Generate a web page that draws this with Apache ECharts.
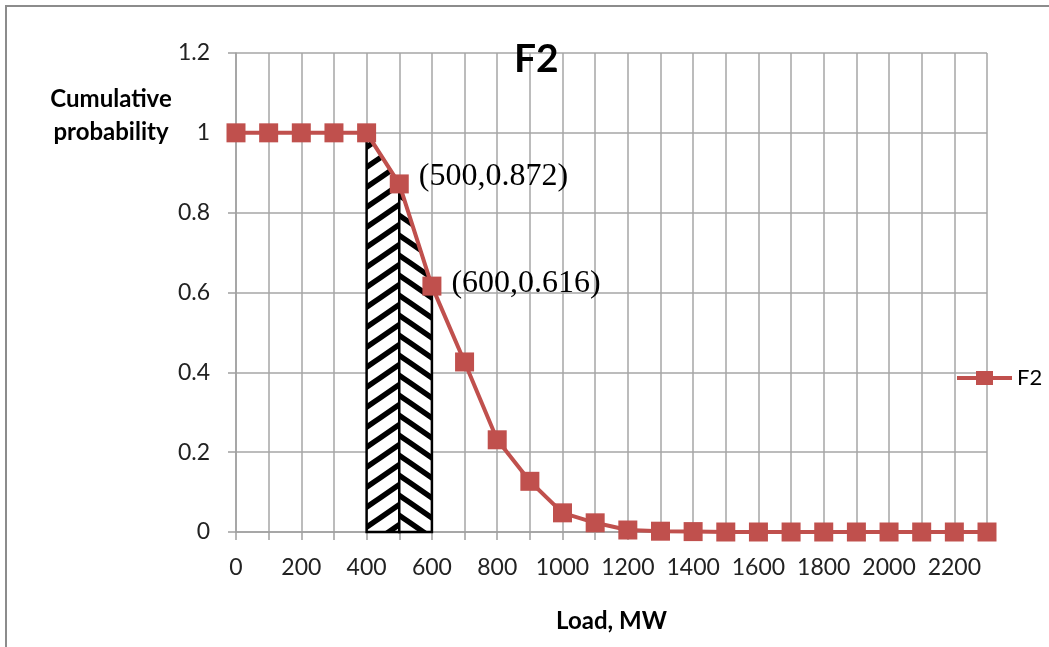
<!DOCTYPE html>
<html>
<head>
<meta charset="utf-8">
<script src="https://cdn.jsdelivr.net/npm/echarts@6/dist/echarts.min.js"></script>
<style>
html,body{margin:0;padding:0;background:#fff;}
#chart{width:1049px;height:647px;}
</style>
</head>
<body>
<div id="chart"></div>
<script>
// ---- data ----
const loads = [0,100,200,300,400,500,600,700,800,900,1000,1100,1200,1300,1400,1500,1600,1700,1800,1900,2000,2100,2200,2300];
const probs = [1,1,1,1,1,0.872,0.616,0.426,0.231,0.127,0.048,0.023,0.005,0.002,0.001,0,0,0,0,0,0,0,0,0];
const annotated = [500, 600];
const hatchLoads = [400, 500, 600];
const yTicks = [0, 0.2, 0.4, 0.6, 0.8, 1, 1.2];
const seriesName = 'F2';

function makeHatch(dir) {
  const W = 29, H = 20;
  const c = document.createElement('canvas');
  c.width = W; c.height = H;
  const ctx = c.getContext('2d');
  ctx.fillStyle = '#fff';
  ctx.fillRect(0, 0, W, H);
  ctx.strokeStyle = '#000';
  ctx.lineWidth = 5.5;
  ctx.beginPath();
  for (let k = -2; k <= 2; k++) {
    if (dir > 0) { ctx.moveTo(k * W - W, 2 * H); ctx.lineTo(k * W + 2 * W, -H); }
    else { ctx.moveTo(k * W - W, -H); ctx.lineTo(k * W + 2 * W, 2 * H); }
  }
  ctx.stroke();
  return c;
}
const hatchL = makeHatch(1), hatchR = makeHatch(-1);

function probAt(x) { return probs[loads.indexOf(x)]; }
const segs = [];
for (let i = 0; i < hatchLoads.length - 1; i++) segs.push([hatchLoads[i], hatchLoads[i + 1]]);

const lineData = loads.map((x, i) => {
  const d = { value: [x, probs[i]] };
  if (annotated.includes(x)) {
    d.label = {
      show: true, position: 'right', distance: 10,
      offset: [0, x === 500 ? -7 : -3],
      formatter: '(' + x + ',' + probs[i] + ')',
      fontFamily: 'Liberation Serif', fontSize: 32, color: '#000'
    };
  }
  return d;
});

const chart = echarts.init(document.getElementById('chart'));
const font = 'Lato';
chart.setOption({
  animation: false,
  backgroundColor: '#fff',
  graphic: [{
    type: 'rect', shape: { x: 6, y: 6, width: 1100, height: 700 },
    style: { fill: 'none', stroke: '#8c8c8c', lineWidth: 2 }, silent: true, z: -1
  }],
  title: [
    { text: 'F2', left: 509, top: 35, textStyle: { fontFamily: font, fontWeight: 'bold', fontSize: 39, color: '#000' } },
    { text: 'Cumulative\nprobability', left: 106, top: 78, textAlign: 'center',
      textStyle: { fontFamily: font, fontWeight: 'bold', fontSize: 24, lineHeight: 33, color: '#000' } }
  ],
  legend: {
    data: [{ name: seriesName, icon: 'path://M0,5 H19 V0 H36 V5 H55 V9 H36 V14 H19 V9 H0 Z' }],
    left: 952, top: 362, itemWidth: 55, itemHeight: 14, itemGap: 3, symbolKeepAspect: false,
    textStyle: { fontFamily: font, fontSize: 22, color: '#000' }
  },
  grid: { left: 236, right: 62, top: 53, bottom: 115 },
  xAxis: {
    type: 'value', min: 0, max: 2300, interval: 100,
    name: 'Load, MW', nameLocation: 'middle', nameGap: 77,
    nameTextStyle: { fontFamily: font, fontWeight: 'bold', fontSize: 24, color: '#000' },
    axisLine: { show: true, onZero: false, lineStyle: { color: '#a0a0a0', width: 1.5 } },
    axisTick: { show: true, length: 8, lineStyle: { color: '#a0a0a0', width: 1.5 } },
    splitLine: { show: true, lineStyle: { color: '#a6a6a6', width: 1.5 } },
    axisLabel: { margin: 24, fontFamily: font, fontSize: 23, color: '#222',
      formatter: v => (v % 200 === 0 && v <= 2200) ? String(v) : '' }
  },
  yAxis: {
    type: 'value', min: 0, max: 1.2, interval: 0.2,
    axisLine: { show: true, lineStyle: { color: '#a0a0a0', width: 1.5 } },
    axisTick: { show: true, length: 8, lineStyle: { color: '#a0a0a0', width: 1.5 } },
    splitLine: { show: true, lineStyle: { color: '#a6a6a6', width: 1.5 } },
    axisLabel: { margin: 26, fontFamily: font, fontSize: 23, color: '#222',
      formatter: v => yTicks.some(t => Math.abs(t - v) < 1e-9) ? String(+v.toFixed(1)) : '' }
  },
  series: [
    {
      type: 'custom', name: 'hatch', z: 2, silent: true,
      data: segs.map((s, i) => [i]),
      renderItem: (params, api) => {
        const s = segs[params.dataIndex];
        const pts = [
          api.coord([s[0], 0]), api.coord([s[0], probAt(s[0])]),
          api.coord([s[1], probAt(s[1])]), api.coord([s[1], 0])
        ];
        return {
          type: 'polygon', shape: { points: pts },
          style: { fill: { image: params.dataIndex === 0 ? hatchL : hatchR, repeat: 'repeat' },
                   stroke: '#000', lineWidth: 2.5 }
        };
      }
    },
    {
      type: 'line', name: seriesName, z: 3, data: lineData,
      symbol: 'rect', symbolSize: 19, color: '#c0504d',
      lineStyle: { color: '#c0504d', width: 4 },
      itemStyle: { color: '#c0504d' }
    }
  ]
});
</script>
</body>
</html>
